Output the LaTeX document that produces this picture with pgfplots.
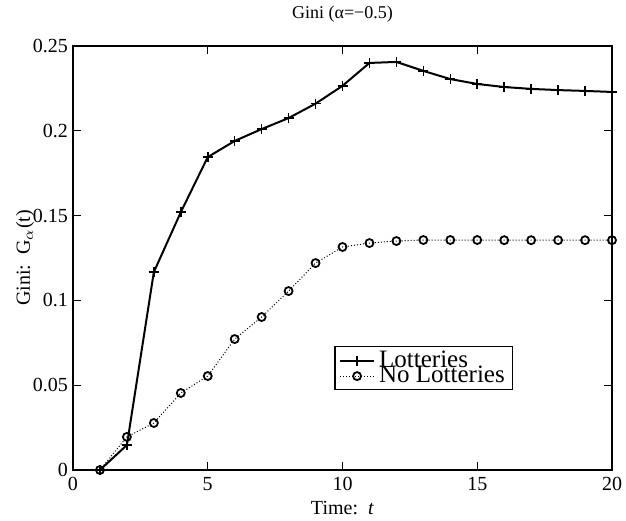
\documentclass[border=0pt]{standalone}
\usepackage{pgfplots}
\pgfplotsset{compat=1.18}
\usepackage{fontspec}
\setmainfont{Liberation Serif}
\begin{document}
\begin{tikzpicture}
\begin{axis}[
  scale only axis,
  width=269.5pt, height=212pt,
  xmin=0, xmax=20, ymin=0, ymax=0.25,
  xtick={0,5,10,15,20},
  ytick={0,0.05,0.1,0.15,0.2,0.25},
  yticklabels={0,0.05,0.1,0.15,0.2,0.25},
  tick align=inside,
  tick pos=both,
  major tick length=4pt,
  axis line style={line width=0.8pt},
  tick style={line width=0.6pt, black},
  ticklabel style={font=\fontsize{10}{11}\selectfont},
  yticklabel style={xshift=1pt},
  /pgf/number format/assume math mode=true,
  every axis title shift=0pt,
  title={Gini (α=−0.5)},
  title style={font=\fontsize{9}{10}\selectfont, at={(axis description cs:0.5,1)}, anchor=center, yshift=16pt},
  xlabel={Time:\ \ \textit{t}},
  xlabel style={font=\fontsize{10}{11}\selectfont, at={(axis description cs:0.5,0)}, anchor=center, yshift=-19pt},
  ylabel={Gini:\ \ G$_\alpha$(t)},
  ylabel style={font=\fontsize{10}{11}\selectfont, at={(axis description cs:0,0.5)}, anchor=center, yshift=24pt},
  legend style={at={(0.485,0.292)}, anchor=north west,
    font=\fontsize{12.5}{9}\selectfont, draw=black, line width=0.6pt,
    inner xsep=2pt, inner ysep=0pt, row sep=-6pt, cells={anchor=west}},
  legend cell align=left,
]
\addplot[black, line width=1pt, mark=+, mark size=2.5pt, mark options={line width=0.8pt}] coordinates {
 (1,0) (2,0.0147) (3,0.1167) (4,0.152) (5,0.1845) (6,0.194) (7,0.201)
 (8,0.2075) (9,0.216) (10,0.2265) (11,0.240) (12,0.2406) (13,0.2353)
 (14,0.2305) (15,0.2276) (16,0.2258) (17,0.2247) (18,0.224) (19,0.2235) (20,0.2229)};
\addlegendentry{Lotteries}
\addplot[black, line width=0.5pt, densely dotted, mark=o, mark size=2pt, mark options={solid, line width=0.9pt}] coordinates {
 (1,0) (2,0.0195) (3,0.0277) (4,0.0454) (5,0.0554) (6,0.0772) (7,0.0902)
 (8,0.1055) (9,0.122) (10,0.1315) (11,0.1338) (12,0.135) (13,0.1356)
 (14,0.1356) (15,0.1356) (16,0.1355) (17,0.1355) (18,0.1355) (19,0.1355) (20,0.1355)};
\addlegendentry{No Lotteries}
\end{axis}
\pgfresetboundingbox
\path ([shift={(-36.5pt,-25.5pt)}]current axis.south west) rectangle ([shift={(7pt,23pt)}]current axis.north east);
\end{tikzpicture}
\end{document}
